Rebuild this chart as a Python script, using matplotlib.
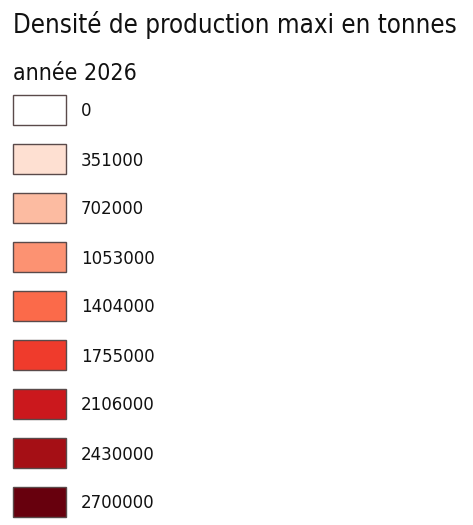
import matplotlib
matplotlib.use("Agg")
import matplotlib.pyplot as plt
from matplotlib.patches import Rectangle

# legend classes (thresholds in tonnes) and their fill colours
title = "Densité de production maxi en tonnes"
subtitle = "année 2026"
thresholds = [0, 351000, 702000, 1053000, 1404000, 1755000, 2106000, 2430000, 2700000]
colors = ["#ffffff", "#fee0d2", "#fcbba1", "#fc9272", "#fb6a4a",
          "#ef3b2c", "#cb181d", "#a50f15", "#67000d"]

W, H = 473, 525
fig = plt.figure(figsize=(W / 100, H / 100), dpi=100)
ax = fig.add_axes([0, 0, 1, 1])
ax.set_xlim(0, W)
ax.set_ylim(H, 0)
ax.axis("off")

font = dict(family="DejaVu Sans", stretch="condensed", color="#111111", va="baseline")
ax.text(13, 33, title, fontsize=18.5, **font)
ax.text(13, 80, subtitle, fontsize=16.6, **font)

top0, step, bh, bw = 95, 49, 30, 53
for i, (val, c) in enumerate(zip(thresholds, colors)):
    y = top0 + i * step
    ax.add_patch(Rectangle((13, y), bw, bh, facecolor=c, edgecolor="#5a4a4a", linewidth=1.0))
    ax.text(81, y + 21.5, str(val), fontsize=13.3, **font)

fig.savefig("out.png", dpi=100)
